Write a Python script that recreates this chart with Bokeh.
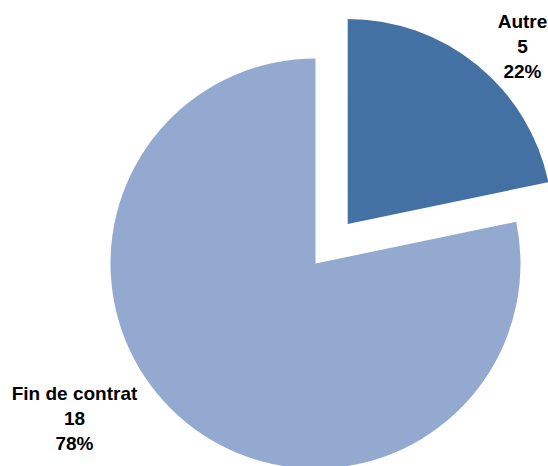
import math
from bokeh.plotting import figure
from bokeh.models import Range1d, ColumnDataSource
from bokeh.core.properties import value
from bokeh.embed import file_html
from bokeh.resources import INLINE

categories = ["Autre", "Fin de contrat"]
values = [5, 18]
colors = ["#4471A4", "#94A9CF"]
explode = [51, 0]

W, H = 548, 466
cx, cy, R = 315, 203, 205
label_pos = [(522, 420), (74, 48)]

total = sum(values)
starts, ends, xs, ys, texts = [], [], [], [], []
cur = math.pi / 2
for v, e in zip(values, explode):
    a = v / total * 2 * math.pi
    s, en = cur, cur - a
    mid = (s + en) / 2
    starts.append(s)
    ends.append(en)
    xs.append(cx + e * math.cos(mid))
    ys.append(cy + e * math.sin(mid))
    cur = en
for c, v in zip(categories, values):
    texts.append(f"{c}\n{v}\n{round(v / total * 100)}%")

src = ColumnDataSource(dict(x=xs, y=ys, start=starts, end=ends, color=colors))
lsrc = ColumnDataSource(dict(x=[p[0] for p in label_pos], y=[p[1] for p in label_pos], text=texts))

p = figure(width=W, height=H, output_backend="svg", toolbar_location=None,
           x_range=Range1d(0, W), y_range=Range1d(0, H), min_border=0)
p.axis.visible = False
p.grid.visible = False
p.outline_line_color = None
p.background_fill_color = "white"

p.wedge(x="x", y="y", radius=R, start_angle="start", end_angle="end",
        direction="clock", fill_color="color", line_color=None, source=src)
p.text(x="x", y="y", text="text", source=lsrc, text_align="center",
       text_baseline="middle", text_font=value("Liberation Sans"),
       text_font_style="bold", text_font_size="19px", text_color="#000000",
       text_line_height=1.2)

open("out.html", "w").write(file_html(p, INLINE))
